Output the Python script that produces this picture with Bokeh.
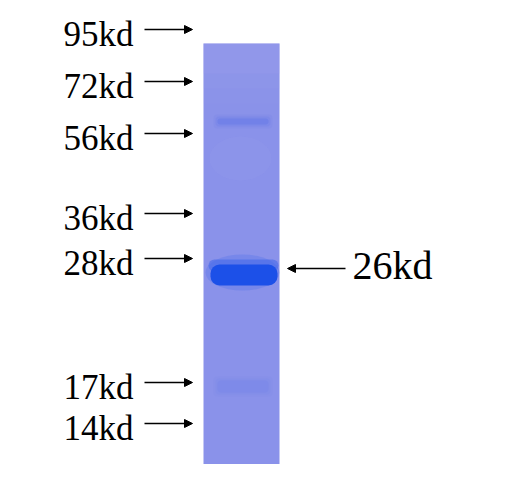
from bokeh.plotting import figure
from bokeh.models import ColumnDataSource, Range1d, Arrow, NormalHead
from bokeh.core.properties import value
from bokeh.embed import file_html
from bokeh.resources import INLINE

# ---- data ----
markers = ["95kd", "72kd", "56kd", "36kd", "28kd", "17kd", "14kd"]
marker_pos = [29, 81, 133, 213, 258, 382, 423]       # migration position (px from top)
band_pos = [121, 273, 386]                          # observed bands
band_strength = [0.45, 1.0, 0.18]
target_label = ["26kd"]
target_pos = [268]

# ---- layout constants ----
W, H = 504, 464
LANE_L, LANE_R, LANE_T, LANE_B = 203, 279, 43, 480
FONT = value("Liberation Serif")

p = figure(width=W, height=H, x_range=Range1d(0, W), y_range=Range1d(H, 0),
           output_backend="svg", toolbar_location=None, min_border=0)
p.axis.visible = False
p.grid.visible = False
p.outline_line_color = None
p.background_fill_color = "white"
p.border_fill_color = "white"

# lane
p.quad(left=[LANE_L], right=[LANE_R], top=[LANE_T], bottom=[LANE_B],
       fill_color="#8a92ea", line_color=None)
# lighter top of lane (soft)
for i, a in enumerate([0.35, 0.25, 0.15, 0.08]):
    p.quad(left=[LANE_L], right=[LANE_R], top=[LANE_T], bottom=[LANE_T + 30 + 15 * i],
           fill_color="#a2a4f2", fill_alpha=a / 2, line_color=None)
p.ellipse(x=[240], y=[158], width=[62], height=[44],
          fill_color="#a3a6f0", fill_alpha=0.1, line_color=None)

# bands
for y, s in zip(band_pos, band_strength):
    if s >= 0.9:
        thick = 24
        p.ellipse(x=[(LANE_L + LANE_R) / 2 + 1], y=[y - 1], width=[LANE_R - LANE_L - 2],
                  height=[thick + 12], fill_color="#5a78ea", fill_alpha=0.4, line_color=None)
        p.quad(left=[LANE_L + 5], right=[LANE_R - 1], top=[y - thick / 2 - 2], bottom=[y - 2],
               fill_color="#4066ea", fill_alpha=0.55, line_color=None, border_radius=6)
        p.quad(left=[LANE_L + 7], right=[LANE_R - 2], top=[y - 9], bottom=[y + thick / 2],
               fill_color="#1c50e8", line_color=None, border_radius=9)
    else:
        thick = 6 if s > 0.3 else 12
        for k, a in enumerate([0.35, 0.6, 1.0]):
            grow = (2 - k) * 2
            p.quad(left=[LANE_L + 14 - grow], right=[LANE_R - 11 + grow],
                   top=[y - thick / 2 - grow], bottom=[y + thick / 2 + grow],
                   fill_color="#4a68e6", fill_alpha=s * a * 0.5, line_color=None,
                   border_radius=4)

# marker labels and arrows
lab = ColumnDataSource(dict(x=[63] * len(markers), y=[v + 5 for v in marker_pos], text=markers))
p.text(x="x", y="y", text="text", source=lab, text_font=FONT, text_font_size=value("35px"),
       text_align="left", text_baseline="alphabetic", text_color="black")
arr = ColumnDataSource(dict(xs=[144] * len(markers), xe=[192] * len(markers), y=marker_pos))
p.add_layout(Arrow(end=NormalHead(size=8, fill_color="black", line_color="black"),
                   x_start="xs", y_start="y", x_end="xe", y_end="y", source=arr,
                   line_width=1.5, line_color="black"))

# target label
p.add_layout(Arrow(end=NormalHead(size=8, fill_color="black", line_color="black"),
                   x_start=345, y_start=target_pos[0], x_end=287, y_end=target_pos[0],
                   line_width=1.5, line_color="black"))
p.text(x=[352], y=[target_pos[0] - 3], text=target_label, text_font=FONT,
       text_font_size=value("40px"), text_align="left", text_baseline="alphabetic",
       text_color="black")

open("out.html", "w").write(file_html(p, INLINE))
